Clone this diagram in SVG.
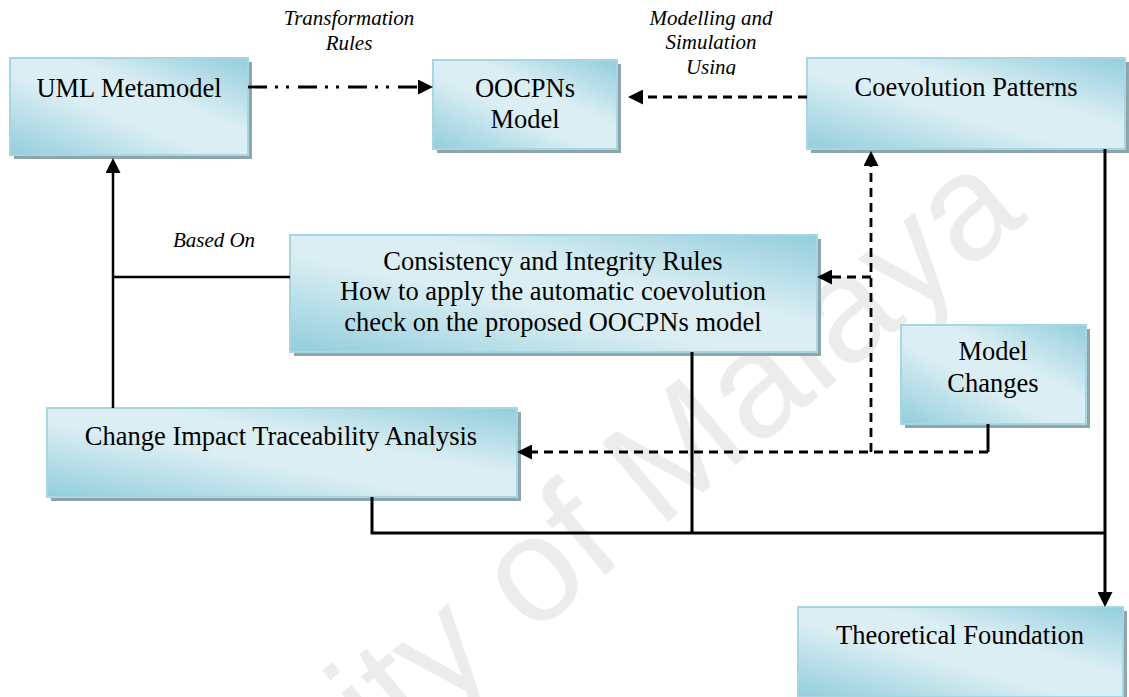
<svg xmlns="http://www.w3.org/2000/svg" width="1129" height="697" viewBox="0 0 1129 697">
  <defs>
    <linearGradient id="boxfill" x1="0" y1="1" x2="1" y2="0">
      <stop offset="0" stop-color="#92cddc"/>
      <stop offset="0.42" stop-color="#daeef3"/>
      <stop offset="0.62" stop-color="#daeef3"/>
      <stop offset="1" stop-color="#92cddc"/>
    </linearGradient>
    <marker id="ah" viewBox="0 0 15 15" refX="0" refY="7.5" markerWidth="15" markerHeight="15" markerUnits="userSpaceOnUse" orient="auto">
      <path d="M0,0 L15,7.5 L0,15 z" fill="#000"/>
    </marker>
    <clipPath id="clipUsing">
      <rect x="600" y="0" width="250" height="75"/>
    </clipPath>
  </defs>
  <style>
    .shadow { fill: #8ea5ac; }
    .face { fill: url(#boxfill); stroke: #a6d6e2; stroke-width: 2; }
    .t { font-family: "Liberation Serif", "Times New Roman", serif; font-size: 26.5px; fill: #000; text-anchor: middle; }
    .lbl { font-family: "Liberation Serif", "Times New Roman", serif; font-size: 21px; font-style: italic; fill: #000; text-anchor: middle; }
    .c { fill: none; stroke: #000; stroke-width: 3; }
    .thin { stroke-width: 2.5; }
    .dash { stroke-dasharray: 9 6; stroke-width: 2.8; }
    .ddd { stroke-dasharray: 19 8 3 8 3 9; stroke-width: 2.8; }
    .wm { font-family: "Liberation Sans", Arial, sans-serif; font-size: 150px; fill: #ececec; }
  </style>

  <rect x="0" y="0" width="1129" height="697" fill="#ffffff"/>

  <text class="wm" transform="translate(-5,1087) rotate(-40)">University of Malaya</text>

  <g id="uml-metamodel">
    <rect class="shadow" x="14" y="62" width="238" height="97"/>
    <rect class="face" x="10" y="58" width="238" height="97"/>
    <text class="t" x="129" y="97">UML Metamodel</text>
  </g>

  <g id="oocpns-model">
    <rect class="shadow" x="437" y="64" width="184" height="89"/>
    <rect class="face" x="433" y="60" width="184" height="89"/>
    <text class="t" x="525" y="97">OOCPNs</text>
    <text class="t" x="525" y="128">Model</text>
  </g>

  <g id="coevolution-patterns">
    <rect class="shadow" x="811" y="62" width="318" height="91"/>
    <rect class="face" x="807" y="58" width="318" height="91"/>
    <text class="t" x="966" y="96">Coevolution Patterns</text>
  </g>

  <g id="consistency-rules">
    <rect class="shadow" x="294" y="239" width="527" height="117"/>
    <rect class="face" x="290" y="235" width="527" height="117"/>
    <text class="t" x="553" y="270">Consistency and Integrity Rules</text>
    <text class="t" x="553" y="300">How to apply the automatic coevolution</text>
    <text class="t" x="553" y="331">check on the proposed OOCPNs model</text>
  </g>

  <g id="model-changes">
    <rect class="shadow" x="905" y="329" width="185" height="99"/>
    <rect class="face" x="901" y="325" width="185" height="99"/>
    <text class="t" x="993" y="360">Model</text>
    <text class="t" x="993" y="392">Changes</text>
  </g>

  <g id="change-impact">
    <rect class="shadow" x="51" y="412" width="470" height="89"/>
    <rect class="face" x="47" y="408" width="470" height="89"/>
    <text class="t" x="281" y="445">Change Impact Traceability Analysis</text>
  </g>

  <g id="theoretical-foundation">
    <rect class="shadow" x="802" y="611" width="325" height="90"/>
    <rect class="face" x="798" y="607" width="325" height="90"/>
    <text class="t" x="960" y="644">Theoretical Foundation</text>
  </g>

  <g id="labels">
    <text class="lbl" x="349" y="25">Transformation</text>
    <text class="lbl" x="349" y="50">Rules</text>
    <text class="lbl" x="711" y="25">Modelling and</text>
    <text class="lbl" x="711" y="49">Simulation</text>
    <text class="lbl" x="711" y="74" clip-path="url(#clipUsing)">Using</text>
    <text class="lbl" x="214" y="247">Based On</text>
  </g>

  <g id="connectors">
    <path class="c ddd" d="M248,87 H418" marker-end="url(#ah)"/>
    <path class="c dash" d="M807,97 H643" marker-end="url(#ah)"/>
    <path class="c dash" d="M871,452 V166" marker-end="url(#ah)"/>
    <path class="c dash" d="M871,277 H832" marker-end="url(#ah)"/>
    <path class="c" d="M988,424 V452"/>
    <path class="c dash" d="M988,452 H532" marker-end="url(#ah)"/>
    <path class="c thin" d="M113,408 V173" marker-end="url(#ah)"/>
    <path class="c thin" d="M113,277 H290"/>
    <path class="c" d="M692,352 V533"/>
    <path class="c" d="M372,497 V533 H1105"/>
    <path class="c" d="M1105,149 V592" marker-end="url(#ah)"/>
  </g>
</svg>
